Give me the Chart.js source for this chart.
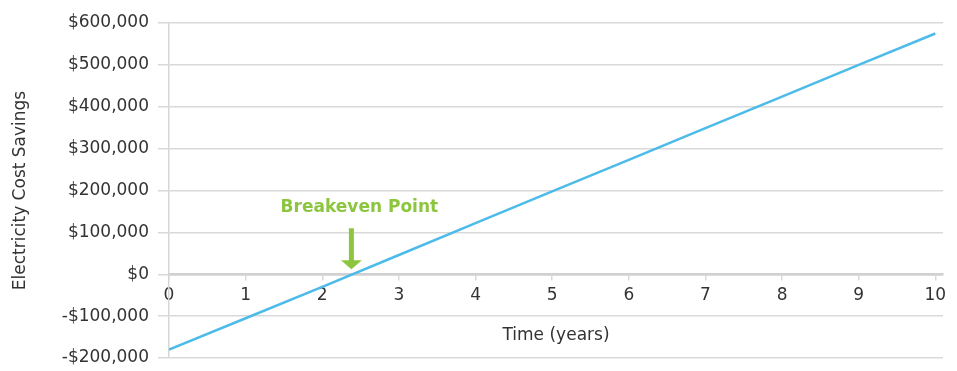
<!DOCTYPE html>
<html>
<head>
<meta charset="utf-8">
<script src="https://cdn.jsdelivr.net/npm/chart.js@4/dist/chart.umd.min.js"></script>
<style>
  html, body { margin: 0; padding: 0; background: #ffffff; }
  #wrap { width: 957px; height: 371px; position: relative; }
</style>
</head>
<body>
<div id="wrap"><canvas id="chart" width="957" height="371"></canvas></div>
<script>
// Cumulative electricity cost savings by year
const years = [0, 1, 2, 3, 4, 5, 6, 7, 8, 9, 10];
const savings = [-180000, -105000, -30000, 46000, 122000, 198000, 273000, 349000, 424000, 500000, 575000];
const yTicks = [-200000, -100000, 0, 100000, 200000, 300000, 400000, 500000, 600000];
const xTicks = [0, 1, 2, 3, 4, 5, 6, 7, 8, 9, 10];
const breakevenYear = [2.38];
const breakevenLabel = 'Breakeven Point';

const TEXT = '#333333';
const GRID = '#d9d9d9';
const BLUE = '#4dbbe9';
const GREEN = '#8cc63f';
const FONT = '"DejaVu Sans", sans-serif';

function money(v) {
  const s = '$' + Math.abs(v).toLocaleString('en-US');
  return v < 0 ? '-' + s : s;
}

// Arrow + caption pointing at the zero crossing
const breakevenMarker = {
  id: 'breakevenMarker',
  afterDatasetsDraw(chart) {
    const { ctx, scales } = chart;
    const x = scales.x.getPixelForValue(breakevenYear[0]);
    const y0 = scales.y.getPixelForValue(0);
    ctx.save();
    ctx.fillStyle = GREEN;
    // shaft
    ctx.fillRect(x - 2.5, y0 - 46, 5, 36);
    // head
    ctx.beginPath();
    ctx.moveTo(x - 10.5, y0 - 14);
    ctx.lineTo(x + 10.5, y0 - 14);
    ctx.lineTo(x, y0 - 5);
    ctx.closePath();
    ctx.fill();
    // caption
    ctx.font = 'bold 17px ' + FONT;
    ctx.textAlign = 'center';
    ctx.textBaseline = 'middle';
    ctx.fillText(breakevenLabel, x + 8, y0 - 67);
    ctx.restore();
  }
};

// Axis caption below the year labels
const xCaption = {
  id: 'xCaption',
  afterDraw(chart) {
    const { ctx, chartArea, scales } = chart;
    const y0 = scales.y.getPixelForValue(0);
    ctx.save();
    ctx.font = '17px ' + FONT;
    ctx.fillStyle = TEXT;
    ctx.textAlign = 'center';
    ctx.textBaseline = 'middle';
    ctx.fillText('Time (years)', (chartArea.left + chartArea.right) / 2, y0 + 61);
    ctx.restore();
  }
};

new Chart(document.getElementById('chart'), {
  type: 'line',
  data: {
    datasets: [{
      data: years.map((x, i) => ({ x: x, y: savings[i] })),
      borderColor: BLUE,
      borderWidth: 2.5,
      pointRadius: 0,
      tension: 0,
      fill: false
    }]
  },
  options: {
    responsive: false,
    animation: false,
    layout: { padding: { left: 0, right: 14, top: 23, bottom: 13 } },
    plugins: {
      legend: { display: false },
      tooltip: { enabled: false }
    },
    scales: {
      x: {
        type: 'linear',
        position: { y: 0 },
        min: 0,
        max: 10.1,
        afterBuildTicks: (scale) => { scale.ticks = xTicks.map(v => ({ value: v })); },
        afterFit: (scale) => { scale.paddingLeft = 0; scale.paddingRight = 0; },
        grid: {
          drawOnChartArea: false,
          drawTicks: true,
          tickLength: 5,
          color: GRID,
          lineWidth: 1.5
        },
        border: { display: true, color: '#d0d0d0', width: 2.5 },
        ticks: {
          color: TEXT,
          font: { family: FONT, size: 17 },
          padding: 6,
          maxRotation: 0,
          autoSkip: false,
          callback: (v) => String(v)
        }
      },
      y: {
        min: -200000,
        max: 600000,
        afterBuildTicks: (scale) => { scale.ticks = yTicks.map(v => ({ value: v })); },
        afterFit: (scale) => {
          scale.width = 169;
          scale.paddingTop = 0;
          scale.paddingBottom = 0;
        },
        grid: {
          color: GRID,
          lineWidth: 1.5,
          tickLength: 11
        },
        border: { display: true, color: '#d6d6d6', width: 1.5 },
        ticks: {
          color: TEXT,
          font: { family: FONT, size: 17 },
          padding: 9,
          callback: (v) => money(v)
        },
        title: {
          display: true,
          text: 'Electricity Cost Savings',
          color: TEXT,
          font: { family: FONT, size: 17 },
          padding: { top: 10, bottom: 0 }
        }
      }
    }
  },
  plugins: [breakevenMarker, xCaption]
});
</script>
</body>
</html>
